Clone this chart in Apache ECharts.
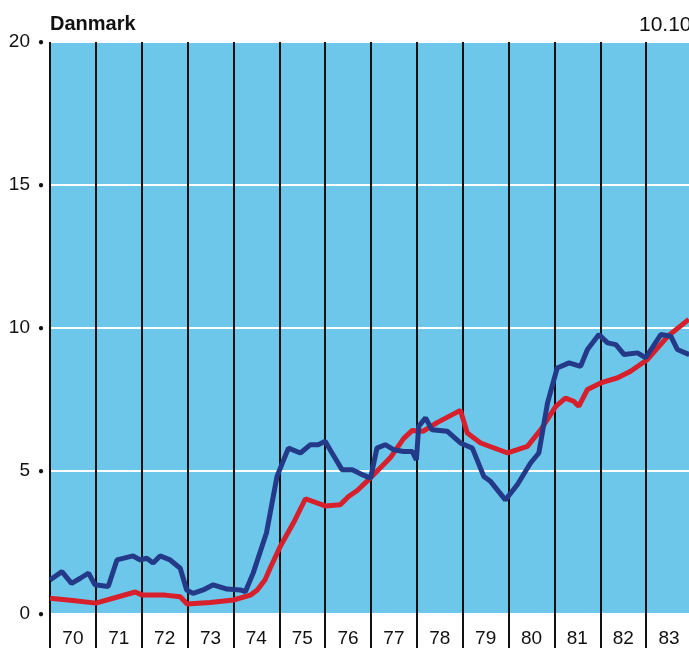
<!DOCTYPE html>
<html>
<head>
<meta charset="utf-8">
<script src="https://cdn.jsdelivr.net/npm/echarts@6/dist/echarts.min.js"></script>
<style>
  html, body { margin: 0; padding: 0; background: #fff; overflow: hidden; }
  #chart { width: 692px; height: 648px; }
</style>
</head>
<body>
<div id="chart"></div>
<script>
// year labels under the bands
var years = ['70', '71', '72', '73', '74', '75', '76', '77', '78', '79', '80', '81', '82', '83'];

// red series (year, value)
var redX = [1970.00, 1970.50, 1971.00, 1971.53, 1971.86, 1972.01, 1972.51, 1972.84, 1972.99, 1973.49,
            1974.00, 1974.37, 1974.52, 1974.69, 1974.80, 1975.02, 1975.31, 1975.57, 1976.00, 1976.33,
            1976.51, 1976.70, 1976.99, 1977.42, 1977.71, 1977.90, 1978.14, 1978.45, 1978.95, 1979.10,
            1979.39, 1979.98, 1980.41, 1980.70, 1981.03, 1981.24, 1981.42, 1981.53, 1981.72, 1982.01,
            1982.38, 1982.66, 1983.03, 1983.47, 1983.93];
var redY = [0.55, 0.47, 0.38, 0.62, 0.77, 0.66, 0.66, 0.60, 0.35, 0.40,
            0.49, 0.66, 0.84, 1.20, 1.60, 2.36, 3.19, 4.03, 3.78, 3.82,
            4.11, 4.32, 4.76, 5.46, 6.13, 6.42, 6.39, 6.70, 7.12, 6.33,
            5.98, 5.63, 5.86, 6.44, 7.26, 7.55, 7.44, 7.26, 7.85, 8.08,
            8.26, 8.49, 8.90, 9.71, 10.30];

// blue series (year, value)
var blueX = [1970.00, 1970.26, 1970.47, 1970.66, 1970.84, 1970.98, 1971.27, 1971.46, 1971.81, 1971.97,
             1972.11, 1972.25, 1972.40, 1972.62, 1972.84, 1972.98, 1973.12, 1973.34, 1973.56, 1973.86,
             1974.15, 1974.26, 1974.43, 1974.72, 1974.95, 1975.20, 1975.46, 1975.68, 1975.85, 1976.00,
             1976.15, 1976.37, 1976.59, 1976.77, 1976.99, 1977.13, 1977.31, 1977.50, 1977.71, 1977.90,
             1977.99, 1978.04, 1978.19, 1978.33, 1978.66, 1978.95, 1979.21, 1979.46, 1979.61, 1979.93,
             1980.19, 1980.48, 1980.66, 1980.85, 1981.06, 1981.32, 1981.57, 1981.72, 1981.97, 1982.16,
             1982.34, 1982.52, 1982.81, 1982.99, 1983.32, 1983.54, 1983.68, 1983.94];
var blueY = [1.19, 1.48, 1.07, 1.25, 1.43, 1.02, 0.96, 1.89, 2.03, 1.89,
             1.95, 1.78, 2.03, 1.89, 1.60, 0.84, 0.72, 0.84, 1.02, 0.87,
             0.84, 0.78, 1.43, 2.83, 4.81, 5.80, 5.63, 5.92, 5.92, 6.04,
             5.63, 5.04, 5.04, 4.90, 4.75, 5.80, 5.92, 5.74, 5.68, 5.68,
             5.39, 6.56, 6.86, 6.44, 6.39, 5.98, 5.80, 4.81, 4.63, 3.99,
             4.52, 5.28, 5.63, 7.38, 8.60, 8.78, 8.66, 9.25, 9.77, 9.48,
             9.42, 9.07, 9.13, 8.96, 9.77, 9.71, 9.25, 9.07];

function pairs(xs, ys) {
    var out = [];
    for (var i = 0; i < xs.length; i++) out.push([xs[i], ys[i]]);
    return out;
}

// canvas is 3px wider than the window, so the 1984 line falls off the picture
var chart = echarts.init(document.getElementById('chart'));
var font = 'Liberation Sans, Arial, sans-serif';

var option = {
    animation: false,
    backgroundColor: '#ffffff',
    title: [
        {text: 'Danmark', left: 45, top: 9,
         textStyle: {fontFamily: font, fontSize: 20, fontWeight: 'bold', color: '#111'}},
        {text: '10.10', left: 634, top: 10,
         textStyle: {fontFamily: font, fontSize: 21, fontWeight: 'normal', color: '#111'}}
    ],
    grid: {
        left: 50, right: 0, top: 42, bottom: 34,
        show: true, backgroundColor: '#6dc7ea', borderWidth: 0
    },
    xAxis: [
        {
            type: 'value', min: 1970, max: 1984, interval: 1,
            axisLine: {show: false},
            axisLabel: {show: false},
            axisTick: {show: true, length: 34, lineStyle: {color: '#111', width: 2}},
            splitLine: {show: true, lineStyle: {color: '#111', width: 2}}
        },
        {
            type: 'category', data: years, boundaryGap: true, position: 'bottom',
            axisLine: {show: false}, axisTick: {show: false}, splitLine: {show: false},
            axisLabel: {margin: 15, fontFamily: font, fontSize: 19, color: '#111'}
        }
    ],
    yAxis: {
        type: 'value', min: 0, max: 20, interval: 5,
        axisLine: {show: false}, axisTick: {show: false},
        splitLine: {show: true, lineStyle: {color: '#ffffff', width: 2}},
        axisLabel: {
            margin: 6, fontFamily: font, fontSize: 19, color: '#111',
            formatter: function (v) { return v + '{d|●}'; },
            rich: {d: {fontSize: 10, color: '#111', padding: [0, 0, 0, 8]}}
        }
    },
    series: [
        {
            name: 'red', type: 'line', data: pairs(redX, redY),
            showSymbol: false, symbol: 'none',
            lineStyle: {color: '#d81f2c', width: 5}
        },
        {
            name: 'blue', type: 'line', data: pairs(blueX, blueY),
            showSymbol: false, symbol: 'none',
            lineStyle: {color: '#243a88', width: 5}
        }
    ]
};

chart.setOption(option);
</script>
</body>
</html>
